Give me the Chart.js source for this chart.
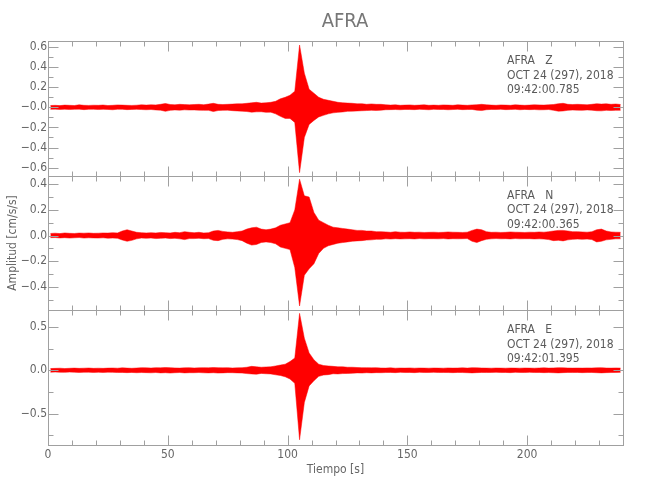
<!DOCTYPE html>
<html>
<head>
<meta charset="utf-8">
<script src="https://cdn.jsdelivr.net/npm/chart.js@4.4.1/dist/chart.umd.min.js"></script>
<style>
  html, body { margin: 0; padding: 0; background: #fff; }
  #wrap { width: 650px; height: 500px; }
</style>
</head>
<body>
<div id="wrap"><canvas id="sismo" width="650" height="500"></canvas></div>
<script>
// envelope of each trace, read every 2 s (upper value, lower value)
const BIN = 2;

const zHi = [0.018,0.02,0.017,0.022,0.02,0.018,0.025,0.02,0.019,0.021,
  0.02,0.023,0.018,0.02,0.024,0.022,0.02,0.019,0.021,0.025,
  0.022,0.025,0.024,0.03,0.038,0.028,0.025,0.03,0.027,0.025,
  0.028,0.03,0.026,0.032,0.04,0.03,0.028,0.03,0.032,0.035,
  0.035,0.04,0.045,0.05,0.042,0.045,0.05,0.06,0.085,0.1,
  0.12,0.16,0.62,0.34,0.18,0.14,0.1,0.08,0.07,0.06,
  0.05,0.045,0.042,0.04,0.035,0.036,0.03,0.034,0.03,0.03,
  0.025,0.022,0.025,0.02,0.022,0.024,0.02,0.022,0.025,0.02,
  0.022,0.02,0.024,0.022,0.02,0.025,0.022,0.02,0.024,0.026,
  0.03,0.025,0.022,0.02,0.024,0.022,0.02,0.025,0.022,0.02,
  0.022,0.025,0.024,0.022,0.025,0.028,0.036,0.04,0.03,0.028,
  0.03,0.028,0.025,0.03,0.036,0.032,0.035,0.03,0.033,0.028];
const zLo = [-0.02,-0.018,-0.021,-0.019,-0.022,-0.02,-0.018,-0.023,-0.02,-0.019,
  -0.022,-0.02,-0.021,-0.024,-0.019,-0.02,-0.023,-0.021,-0.02,-0.022,
  -0.024,-0.022,-0.026,-0.028,-0.04,-0.03,-0.026,-0.028,-0.025,-0.027,
  -0.026,-0.028,-0.03,-0.03,-0.042,-0.032,-0.03,-0.028,-0.033,-0.036,
  -0.038,-0.042,-0.048,-0.045,-0.044,-0.05,-0.048,-0.065,-0.09,-0.11,
  -0.11,-0.15,-0.65,-0.3,-0.17,-0.13,-0.095,-0.08,-0.065,-0.055,
  -0.05,-0.046,-0.04,-0.038,-0.036,-0.034,-0.032,-0.03,-0.031,-0.028,
  -0.024,-0.023,-0.022,-0.024,-0.021,-0.022,-0.023,-0.02,-0.022,-0.024,
  -0.02,-0.022,-0.021,-0.024,-0.022,-0.02,-0.023,-0.022,-0.021,-0.028,
  -0.032,-0.024,-0.021,-0.022,-0.02,-0.023,-0.022,-0.02,-0.024,-0.021,
  -0.023,-0.022,-0.025,-0.024,-0.022,-0.03,-0.038,-0.036,-0.03,-0.027,
  -0.028,-0.03,-0.026,-0.028,-0.034,-0.035,-0.03,-0.032,-0.03,-0.03];

const nHi = [0.016,0.018,0.015,0.02,0.017,0.016,0.019,0.018,0.02,0.017,
  0.018,0.02,0.019,0.022,0.02,0.035,0.045,0.035,0.025,0.022,
  0.02,0.022,0.02,0.024,0.022,0.02,0.025,0.022,0.03,0.025,
  0.022,0.025,0.02,0.022,0.035,0.04,0.032,0.028,0.025,0.03,
  0.035,0.05,0.06,0.065,0.05,0.045,0.05,0.06,0.08,0.09,
  0.1,0.2,0.44,0.31,0.3,0.18,0.12,0.1,0.08,0.065,
  0.06,0.055,0.05,0.045,0.04,0.04,0.035,0.035,0.03,0.03,
  0.028,0.025,0.03,0.026,0.025,0.028,0.025,0.026,0.024,0.025,
  0.026,0.024,0.025,0.028,0.026,0.025,0.024,0.026,0.04,0.05,
  0.045,0.03,0.025,0.026,0.024,0.025,0.028,0.026,0.025,0.024,
  0.026,0.025,0.028,0.026,0.03,0.035,0.04,0.04,0.035,0.03,
  0.03,0.028,0.026,0.03,0.045,0.05,0.035,0.028,0.026,0.025];
const nLo = [-0.017,-0.016,-0.019,-0.017,-0.02,-0.018,-0.016,-0.02,-0.018,-0.019,
  -0.02,-0.018,-0.021,-0.02,-0.022,-0.035,-0.045,-0.038,-0.026,-0.02,
  -0.022,-0.02,-0.024,-0.022,-0.02,-0.024,-0.022,-0.026,-0.032,-0.024,
  -0.024,-0.022,-0.025,-0.024,-0.038,-0.04,-0.03,-0.026,-0.028,-0.032,
  -0.04,-0.06,-0.075,-0.07,-0.055,-0.05,-0.055,-0.065,-0.09,-0.1,
  -0.11,-0.25,-0.55,-0.31,-0.26,-0.22,-0.14,-0.1,-0.08,-0.07,
  -0.06,-0.055,-0.05,-0.045,-0.042,-0.04,-0.036,-0.034,-0.03,-0.03,
  -0.026,-0.028,-0.025,-0.027,-0.026,-0.025,-0.027,-0.024,-0.026,-0.025,
  -0.025,-0.026,-0.024,-0.027,-0.025,-0.026,-0.025,-0.024,-0.045,-0.055,
  -0.04,-0.03,-0.026,-0.024,-0.026,-0.025,-0.027,-0.024,-0.026,-0.025,
  -0.025,-0.027,-0.026,-0.028,-0.032,-0.04,-0.038,-0.042,-0.034,-0.03,
  -0.028,-0.03,-0.028,-0.032,-0.05,-0.045,-0.034,-0.03,-0.026,-0.026];

const eHi = [0.02,0.022,0.024,0.02,0.023,0.025,0.022,0.024,0.026,0.022,
  0.024,0.022,0.025,0.026,0.024,0.028,0.025,0.023,0.026,0.03,
  0.028,0.026,0.03,0.028,0.032,0.03,0.027,0.025,0.028,0.03,
  0.026,0.028,0.03,0.028,0.032,0.03,0.028,0.03,0.026,0.028,
  0.03,0.035,0.045,0.04,0.035,0.038,0.04,0.05,0.06,0.07,
  0.1,0.14,0.655,0.37,0.2,0.12,0.07,0.055,0.05,0.045,
  0.04,0.04,0.035,0.035,0.032,0.03,0.03,0.028,0.03,0.026,
  0.025,0.028,0.024,0.026,0.025,0.027,0.024,0.026,0.025,0.024,
  0.026,0.025,0.024,0.027,0.025,0.026,0.028,0.025,0.03,0.028,
  0.026,0.025,0.024,0.026,0.025,0.024,0.026,0.025,0.024,0.026,
  0.025,0.024,0.026,0.028,0.025,0.027,0.03,0.028,0.026,0.025,
  0.026,0.025,0.027,0.026,0.028,0.03,0.026,0.025,0.027,0.025];
const eLo = [-0.022,-0.02,-0.023,-0.024,-0.021,-0.022,-0.025,-0.023,-0.022,-0.025,
  -0.023,-0.025,-0.022,-0.024,-0.026,-0.025,-0.027,-0.025,-0.028,-0.026,
  -0.027,-0.029,-0.026,-0.03,-0.028,-0.032,-0.028,-0.026,-0.03,-0.028,
  -0.028,-0.026,-0.029,-0.03,-0.028,-0.032,-0.03,-0.027,-0.028,-0.03,
  -0.032,-0.038,-0.042,-0.045,-0.036,-0.04,-0.042,-0.052,-0.06,-0.075,
  -0.1,-0.15,-0.8,-0.37,-0.18,-0.12,-0.07,-0.055,-0.05,-0.04,
  -0.042,-0.038,-0.036,-0.034,-0.03,-0.032,-0.028,-0.03,-0.027,-0.028,
  -0.026,-0.025,-0.027,-0.024,-0.026,-0.025,-0.027,-0.024,-0.026,-0.025,
  -0.024,-0.026,-0.025,-0.026,-0.027,-0.025,-0.026,-0.028,-0.03,-0.027,
  -0.025,-0.026,-0.025,-0.024,-0.026,-0.025,-0.027,-0.024,-0.025,-0.026,
  -0.024,-0.026,-0.025,-0.027,-0.026,-0.028,-0.03,-0.027,-0.025,-0.026,
  -0.025,-0.027,-0.026,-0.025,-0.028,-0.03,-0.027,-0.026,-0.025,-0.024];

// tick labels
const xTicks = [0, 50, 100, 150, 200];
const xTickText = ['0', '50', '100', '150', '200'];
const zTicks = [-0.6, -0.4, -0.2, 0, 0.2, 0.4, 0.6];
const zTickText = ['\u22120.6', '\u22120.4', '\u22120.2', '\u22120.0', '0.2', '0.4', '0.6'];
const nTicks = [-0.4, -0.2, 0, 0.2, 0.4];
const nTickText = ['\u22120.4', '\u22120.2', '0.0', '0.2', '0.4'];
const eTicks = [-0.5, 0, 0.5];
const eTickText = ['\u22120.5', '0.0', '0.5'];

// text in each panel
const stations = ['AFRA   Z', 'AFRA   N', 'AFRA   E'];
const dates = ['OCT 24 (297), 2018', 'OCT 24 (297), 2018', 'OCT 24 (297), 2018'];
const startTimes = ['09:42:00.785', '09:42:00.365', '09:42:01.395'];

const FONT = "'DejaVu Sans Condensed', 'Liberation Sans Narrow', sans-serif";
const TXT = '#666';
const AXIS = '#a0a0a0';

const points = vals => vals.map((v, i) => ({ x: i * BIN + 1, y: v }));

function yScale(ticks, text, min, max, title) {
  return {
    type: 'linear',
    position: 'left',
    stack: 'traces',
    stackWeight: 1,
    min: min,
    max: max,
    border: { display: false },
    grid: { display: false, drawTicks: false },
    afterBuildTicks: s => { s.ticks = ticks.map(v => ({ value: v })); },
    afterFit: s => { s.width = 48; },
    ticks: {
      color: TXT,
      autoSkip: false,
      font: { family: FONT, size: 12 },
      padding: 1,
      callback: (v, i) => text[i]
    },
    title: title ? {
      display: true, text: title, color: TXT,
      font: { family: FONT, size: 12 }, padding: { top: 6, bottom: 0 }
    } : { display: false }
  };
}

const panelAxes = ['yZ', 'yN', 'yE'];
const minorStep = [0.1, 0.1, 0.25];
const majorStep = [0.2, 0.2, 0.5];

const framePlugin = {
  id: 'frame',
  afterDraw(chart) {
    const ctx = chart.ctx;
    const xs = chart.scales.x;
    ctx.save();
    ctx.strokeStyle = AXIS;
    ctx.lineWidth = 1;
    const seg = (x1, y1, x2, y2) => { ctx.beginPath(); ctx.moveTo(x1, y1); ctx.lineTo(x2, y2); ctx.stroke(); };
    panelAxes.forEach((id, k) => {
      const s = chart.scales[id];
      const L = Math.round(xs.left) + 0.5, R = Math.round(xs.right) + 0.5;
      const T = Math.round(s.top) + 0.5, B = Math.round(s.bottom) + 0.5;
      ctx.strokeRect(L, T, R - L, B - T);
      for (let v = 0; v <= xs.max; v += 10) {
        const px = Math.round(xs.getPixelForValue(v)) + 0.5;
        const len = v % 50 === 0 ? 10 : 5;
        seg(px, T, px, T + len);
        seg(px, B, px, B - len);
      }
      const st = minorStep[k];
      for (let j = Math.ceil(s.min / st - 1e-9); j * st <= s.max + 1e-9; j++) {
        const v = j * st;
        const r = v / majorStep[k];
        const len = Math.abs(r - Math.round(r)) < 1e-6 ? 10 : 5;
        const py = Math.round(s.getPixelForValue(v)) + 0.5;
        seg(L, py, L + len, py);
        seg(R, py, R - len, py);
      }
      // panel annotation
      ctx.fillStyle = '#5a5a5a';
      ctx.font = '12px ' + FONT;
      ctx.textAlign = 'left';
      ctx.textBaseline = 'middle';
      const tx = xs.right - 116;
      ctx.fillText(stations[k], tx, s.top + 20);
      ctx.fillText(dates[k], tx, s.top + 34.5);
      ctx.fillText(startTimes[k], tx, s.top + 49);
    });
    // chart title
    ctx.fillStyle = '#777';
    ctx.font = '20px ' + FONT;
    ctx.textAlign = 'center';
    ctx.fillText('AFRA', 345, 22);
    ctx.restore();
  }
};

const RED = '#ff0000';
const upper = { borderColor: RED, backgroundColor: RED, borderWidth: 0.5, pointRadius: 0, tension: 0, fill: '+1' };
const lower = { borderColor: RED, borderWidth: 0.5, pointRadius: 0, tension: 0, fill: false };

new Chart(document.getElementById('sismo'), {
  type: 'line',
  data: {
    datasets: [
      Object.assign({ label: 'Z max', data: points(zHi), yAxisID: 'yZ' }, upper),
      Object.assign({ label: 'Z min', data: points(zLo), yAxisID: 'yZ' }, lower),
      Object.assign({ label: 'N max', data: points(nHi), yAxisID: 'yN' }, upper),
      Object.assign({ label: 'N min', data: points(nLo), yAxisID: 'yN' }, lower),
      Object.assign({ label: 'E max', data: points(eHi), yAxisID: 'yE' }, upper),
      Object.assign({ label: 'E min', data: points(eLo), yAxisID: 'yE' }, lower)
    ]
  },
  options: {
    responsive: false,
    animation: false,
    layout: { padding: { left: 0, right: 27, top: 41, bottom: 18 } },
    plugins: { legend: { display: false }, tooltip: { enabled: false }, title: { display: false }, filler: { propagate: false } },
    scales: {
      x: {
        type: 'linear',
        min: 0,
        max: 240,
        border: { display: false },
        grid: { display: false, drawTicks: false },
        afterBuildTicks: s => { s.ticks = xTicks.map(v => ({ value: v })); },
        afterFit: s => { s.height = 37; },
        ticks: { color: TXT, autoSkip: false, font: { family: FONT, size: 12 }, padding: 3, maxRotation: 0, callback: (v, i) => xTickText[i] },
        title: { display: true, text: 'Tiempo [s]', color: TXT, font: { family: FONT, size: 12 }, padding: { top: 0, bottom: 5 } }
      },
      yE: yScale(eTicks, eTickText, -0.86, 0.69),
      yN: yScale(nTicks, nTickText, -0.584, 0.467, 'Amplitud [cm/s/s]'),
      yZ: yScale(zTicks, zTickText, -0.68, 0.66)
    }
  },
  plugins: [framePlugin]
});
</script>
</body>
</html>
